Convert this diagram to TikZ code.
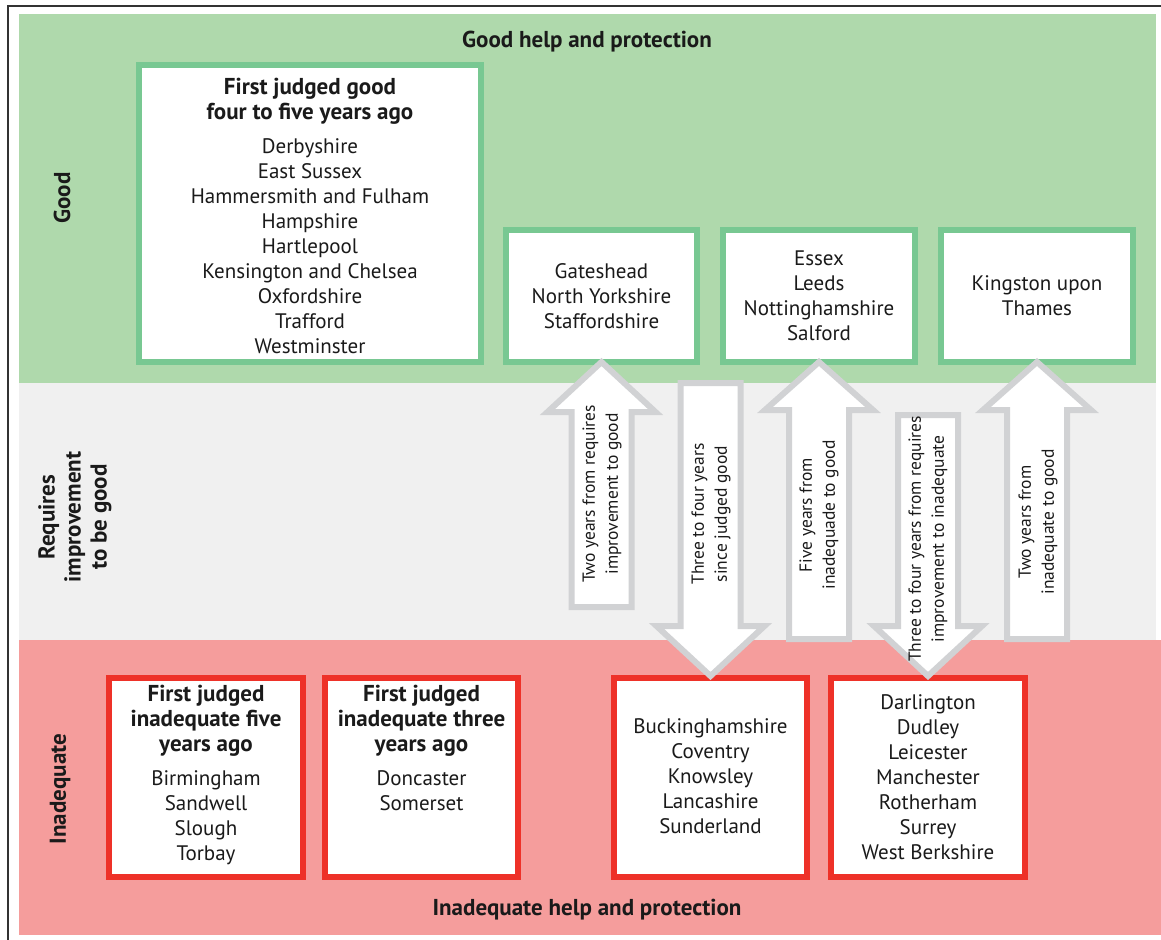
\documentclass[tikz,border=0pt]{standalone}
\usepackage{fontspec}
\setmainfont{PT Sans}
\definecolor{bandgreen}{HTML}{AFD9AC}
\definecolor{bandgrey}{HTML}{F0F0F0}
\definecolor{bandred}{HTML}{F59D9C}
\definecolor{boxgreen}{HTML}{78C892}
\definecolor{boxred}{HTML}{EE3128}
\definecolor{arrgrey}{HTML}{D1D2D4}
\definecolor{txtc}{HTML}{1A1A1A}
\newcommand\arrowUp[3]{%
  \draw[arrowshape] ([yshift=3pt]#1.south) -- ++(54,#2) -- ++(-24,0) -- ++(0,#3)
    -- ++(-60,0) -- ++(0,-#3) -- ++(-24,0) -- cycle;}
\newcommand\arrowDown[3]{%
  \draw[arrowshape] ([yshift=-1pt]#1.north) -- ++(54,-#2) -- ++(-24,0) -- ++(0,-#3)
    -- ++(-60,0) -- ++(0,#3) -- ++(-24,0) -- cycle;}
\newcommand\bt[1]{{\fontsize{23}{25}\selectfont\bfseries #1}}
\begin{document}
\begin{tikzpicture}[x=1pt,y=-1pt,
  gbox/.style={draw=boxgreen, line width=6pt, fill=white, inner sep=0pt},
  rbox/.style={draw=boxred, line width=6pt, fill=white, inner sep=0pt},
  txt/.style={align=center, inner sep=0pt, text=txtc, font=\fontsize{21}{25}\selectfont},
  ttl/.style={align=center, inner sep=0pt, text=txtc, font=\fontsize{23}{26}\selectfont\bfseries},
  arrowshape/.style={draw=arrgrey, fill=white, line width=6pt, line join=miter},
  arrtxt/.style={rotate=90, align=center, inner sep=0pt, text=txtc, font=\fontsize{17.5}{23}\selectfont}]
\useasboundingbox (0,0) rectangle (1161,939);
% bands
\fill[bandgreen] (19,14) rectangle (1156,383);
\fill[bandgrey] (19,383) rectangle (1156,640);
\fill[bandred] (19,640) rectangle (1161,935);
\draw[line width=1.8pt, black!80] (8,950) -- (8,6) -- (1170,6);
% band titles
\node[ttl] (gtitle) at (587,42) {Good help and protection};
\node[ttl] (itit) at (587,910) {Inadequate help and protection};
\node[ttl, rotate=90] (lgood) at (62,198) {Good};
\node[ttl, rotate=90] (lreq) at (75,517) {Requires\\improvement\\to be good};
\node[ttl, rotate=90] (linad) at (60,789) {Inadequate};
% green boxes
\node[gbox, minimum width=342pt, minimum height=297pt] (b1) at (310,213.5) {};
\node[gbox, minimum width=191pt, minimum height=132pt] (b2) at (601.5,296) {};
\node[gbox, minimum width=192pt, minimum height=132pt] (b3) at (819,296) {};
\node[gbox, minimum width=192pt, minimum height=132pt] (b4) at (1037,296) {};
% red boxes
\node[rbox, minimum width=194pt, minimum height=199pt] (b5) at (206,777.5) {};
\node[rbox, minimum width=193pt, minimum height=199pt] (b6) at (421.5,777.5) {};
\node[rbox, minimum width=193pt, minimum height=199pt] (b7) at (710.5,777.5) {};
\node[rbox, minimum width=194pt, minimum height=199pt] (b8) at (928,777.5) {};
% box texts
\node[txt] (t1) at (310,216) {\bt{First judged good}\\\bt{four to five years ago}\\[9pt]Derbyshire\\East Sussex\\Hammersmith and Fulham\\Hampshire\\Hartlepool\\Kensington and Chelsea\\Oxfordshire\\Trafford\\Westminster};
\node[txt] (t2) at (b2.center) {Gateshead\\North Yorkshire\\Staffordshire};
\node[txt] (t3) at (b3.center) {Essex\\Leeds\\Nottinghamshire\\Salford};
\node[txt] (t4) at (b4.center) {Kingston upon\\Thames};
\node[txt] (t5) at (206,775) {\bt{First judged}\\\bt{inadequate five}\\\bt{years ago}\\[9pt]Birmingham\\Sandwell\\Slough\\Torbay};
\node[txt, anchor=north] (t6) at (b6.center |- t5.north) {\bt{First judged}\\\bt{inadequate three}\\\bt{years ago}\\[9pt]Doncaster\\Somerset};
\node[txt] (t7) at (710.5,776) {Buckinghamshire\\Coventry\\Knowsley\\Lancashire\\Sunderland};
\node[txt] (t8) at (928,777) {Darlington\\Dudley\\Leicester\\Manchester\\Rotherham\\Surrey\\West Berkshire};
% arrows
\arrowUp{b2}{50}{195}
\arrowDown{b7}{50}{243}
\arrowUp{b3}{48}{229}
\arrowDown{b8}{50}{211}
\arrowUp{b4}{48}{229}
\node[arrtxt] (a1) at (602,494) {Two years from requires\\improvement to good};
\node[arrtxt] (a2) at (711,514) {Three to four years\\since judged good};
\node[arrtxt] (a3) at (819,515) {Five years from\\inadequade to good};
\node[arrtxt] (a4) at (928,539) {Three to four years from requires\\improvement to inadequate};
\node[arrtxt] (a5) at (1038,522) {Two years from\\inadequate to good};
\end{tikzpicture}
\end{document}
